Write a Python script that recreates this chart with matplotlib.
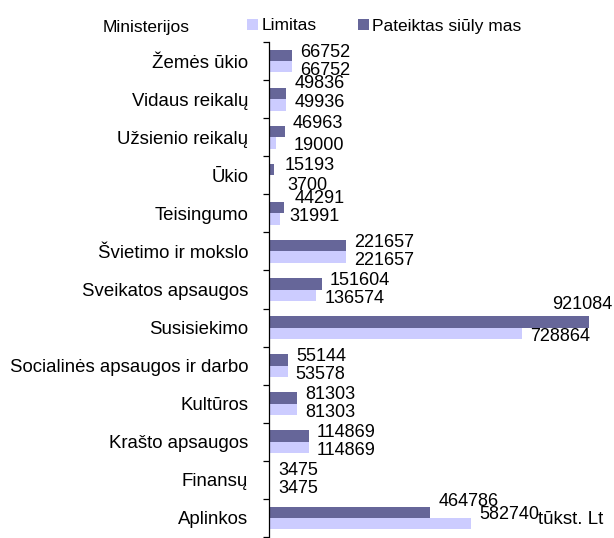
import matplotlib.pyplot as plt
from matplotlib.ticker import FixedLocator
import numpy as np

plt.rcParams['font.family'] = ['Liberation Sans', 'DejaVu Sans']

# data (tūkst. Lt), top to bottom as in the chart
categories = ['Žemės ūkio', 'Vidaus reikalų', 'Užsienio reikalų', 'Ūkio', 'Teisingumo',
              'Švietimo ir mokslo', 'Sveikatos apsaugos', 'Susisiekimo',
              'Socialinės apsaugos ir darbo', 'Kultūros', 'Krašto apsaugos', 'Finansų', 'Aplinkos']
limitas = [66752, 49936, 19000, 3700, 31991, 221657, 136574, 728864, 53578, 81303, 114869, 3475, 582740]
pateiktas = [66752, 49836, 46963, 15193, 44291, 221657, 151604, 921084, 55144, 81303, 114869, 3475, 464786]

light = '#CCCCFF'
dark = '#666699'

W, H = 614, 538
fig = plt.figure(figsize=(W / 100, H / 100), dpi=100)
ax = fig.add_axes([269 / W, 1 / H, 345 / W, 495 / H])

y = np.arange(len(categories))
bh = 0.3
b_dark = ax.barh(y - bh / 2, pateiktas, height=bh, color=dark, label='Pateiktas siūly mas')
b_light = ax.barh(y + bh / 2, limitas, height=bh, color=light, label='Limitas')

ax.set_xlim(0, 993000)
ax.set_ylim(len(categories) - 0.5, -0.5)

# label offsets in pixels (dx, dy up); Excel shuffled a few to avoid overlaps
dark_off = {1: (8, 16), 2: (7, 14), 3: (10, 10), 4: (10, 15), 12: (8, 16)}
light_off = {1: (8, -3), 2: (18, -8), 3: (17, -10), 4: (9, -3.5), 12: (8, 3)}

for i in range(len(categories)):
    if i == 7:
        ax.annotate(f"{pateiktas[i]}", (pateiktas[i], i), xytext=(23, 23),
                    textcoords='offset pixels', ha='right', va='center', fontsize=13,
                    annotation_clip=False)
    else:
        ax.annotate(f"{pateiktas[i]}", (pateiktas[i], i), xytext=dark_off.get(i, (8, 9)),
                    textcoords='offset pixels', ha='left', va='center', fontsize=13)
    ax.annotate(f"{limitas[i]}", (limitas[i], i), xytext=light_off.get(i, (8, -9)),
                textcoords='offset pixels', ha='left', va='center', fontsize=13)

# unit label sits right after the last value label, as in the original
fig.text(538 / W, 1 - 520 / H, 'tūkst. Lt', ha='left', va='center', fontsize=13.5)

# axis styling
for s in ['top', 'right', 'bottom']:
    ax.spines[s].set_visible(False)
ax.spines['left'].set_linewidth(0.9)
ax.set_xticks([])
ax.set_yticks(y)
ax.set_yticklabels(categories, fontsize=13.4)
ax.tick_params(axis='y', which='major', length=0, pad=15)
ax.yaxis.set_minor_locator(FixedLocator(np.arange(-0.5, len(categories), 1)))
ax.tick_params(axis='y', which='minor', length=4, width=0.9)

fig.text(103 / W, 1 - 28 / H, 'Ministerijos', ha='left', va='center', fontsize=12.5)
fig.legend(handles=[b_light, b_dark], loc='center left', bbox_to_anchor=(247 / W, 1 - 26 / H),
           ncol=2, frameon=False, fontsize=12.5, handlelength=0.64, handleheight=0.64,
           handletextpad=0.18, columnspacing=2.4, borderpad=0, borderaxespad=0)

plt.savefig('out.png', dpi=100)
